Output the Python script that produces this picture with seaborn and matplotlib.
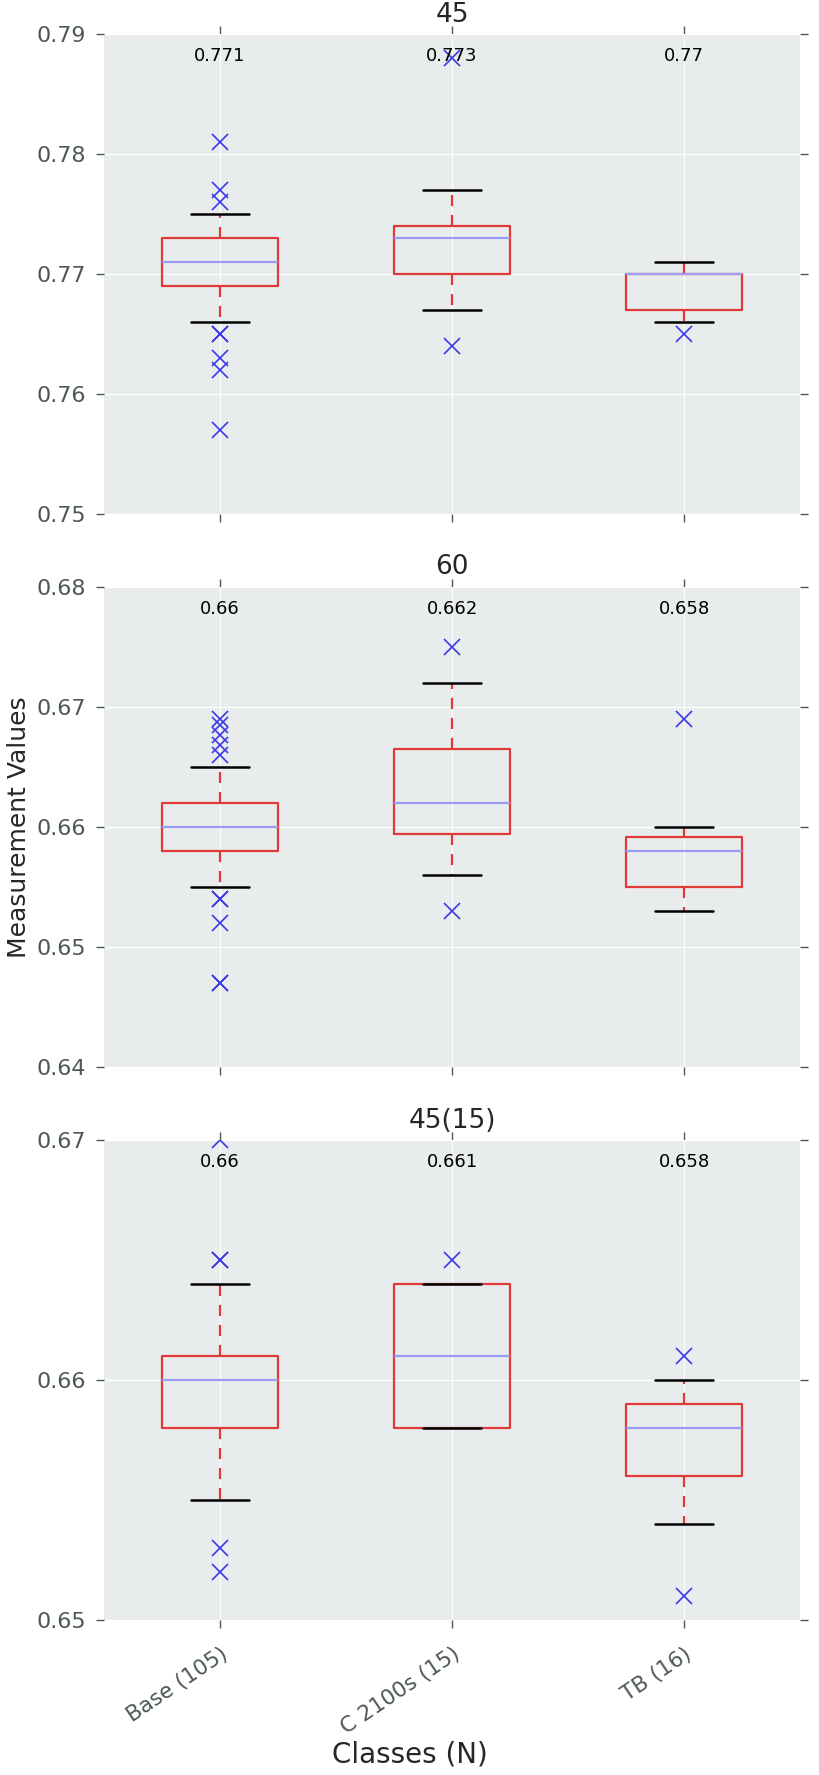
import numpy as np
import seaborn as sns
import matplotlib
matplotlib.use("Agg")
import matplotlib.pyplot as plt

# Data (box statistics per class)
panels = ['45', '60', '45(15)']
classes = ['Base (105)', 'C 2100s (15)', 'TB (16)']

# panel "45"
q1_45 = [0.769, 0.770, 0.767]
med_45 = [0.771, 0.773, 0.770]
q3_45 = [0.773, 0.774, 0.770]
lo_45 = [0.766, 0.767, 0.766]
hi_45 = [0.775, 0.777, 0.771]
fl_45 = [[0.781, 0.777, 0.776, 0.765, 0.765, 0.763, 0.762, 0.757],
         [0.788, 0.764],
         [0.765]]

# panel "60"
q1_60 = [0.658, 0.6594, 0.655]
med_60 = [0.660, 0.662, 0.658]
q3_60 = [0.662, 0.6665, 0.6592]
lo_60 = [0.655, 0.656, 0.653]
hi_60 = [0.665, 0.672, 0.660]
fl_60 = [[0.669, 0.6685, 0.6677, 0.6668, 0.666, 0.654, 0.654, 0.652, 0.647, 0.647],
         [0.675, 0.653],
         [0.669]]

# panel "45(15)"
q1_4515 = [0.658, 0.658, 0.656]
med_4515 = [0.660, 0.661, 0.658]
q3_4515 = [0.661, 0.664, 0.659]
lo_4515 = [0.655, 0.658, 0.654]
hi_4515 = [0.664, 0.664, 0.660]
fl_4515 = [[0.670, 0.665, 0.665, 0.653, 0.652],
           [0.665],
           [0.661, 0.651]]

ylims = [(0.75, 0.79), (0.64, 0.68), (0.65, 0.67)]
yticks = [[0.75, 0.76, 0.77, 0.78, 0.79],
          [0.64, 0.65, 0.66, 0.67, 0.68],
          [0.65, 0.66, 0.67]]

sns.set_style('darkgrid', {'axes.facecolor': '#e9ecec',
                           'grid.color': 'white'})
plt.rcParams['font.family'] = ['DejaVu Sans']

fig = plt.figure(figsize=(8.19, 17.75), dpi=100)
bottoms = [0.7104, 0.3989, 0.0873]

all_stats = [(q1_45, med_45, q3_45, lo_45, hi_45, fl_45),
             (q1_60, med_60, q3_60, lo_60, hi_60, fl_60),
             (q1_4515, med_4515, q3_4515, lo_4515, hi_4515, fl_4515)]

red = '#e03a3a'
tick_gray = '#4d5757'

for i, (q1, med, q3, lo, hi, fl) in enumerate(all_stats):
    ax = fig.add_axes([0.127, bottoms[i], 0.8498, 0.2704])
    stats = []
    for j in range(len(classes)):
        stats.append(dict(q1=q1[j], med=med[j], q3=q3[j],
                          whislo=lo[j], whishi=hi[j], fliers=fl[j],
                          label=classes[j]))
    ax.bxp(stats, positions=[1, 2, 3], widths=0.5, capwidths=0.25,
           manage_ticks=False,
           boxprops=dict(color=red, linewidth=1.6),
           medianprops=dict(color='#9c9cf2', linewidth=1.6),
           whiskerprops=dict(color=red, linewidth=1.6, linestyle=(0, (5, 4))),
           capprops=dict(color='black', linewidth=1.8),
           flierprops=dict(marker='x', markeredgecolor='#3a3ae6',
                           markersize=11, markeredgewidth=1.2,
                           linestyle='none'))

    ax.set_xlim(0.5, 3.5)
    ax.set_ylim(*ylims[i])
    ax.set_yticks(yticks[i])
    ax.set_yticklabels([f'{t:g}' for t in yticks[i]])
    ax.set_xticks([1, 2, 3])
    ax.set_title(panels[i], fontsize=19, pad=9)
    ax.tick_params(direction='out', length=6, width=1, color=tick_gray,
                   top=True, bottom=True, left=True, right=True,
                   labelsize=16, labelcolor=tick_gray, pad=7)
    for s in ax.spines.values():
        s.set_visible(False)

    # median value above each box
    for j, m in enumerate(med):
        ax.text(j + 1, 0.955, f'{round(m, 3):g}', transform=ax.get_xaxis_transform(),
                ha='center', va='center', fontsize=13, color='black')

    if i < 2:
        ax.set_xticklabels([])
    else:
        ax.set_xticklabels(classes, rotation=34, ha='right',
                           rotation_mode='anchor', fontsize=15.5)
        ax.tick_params(axis='x', pad=11)
        ax.set_xlabel('Classes (N)', fontsize=20, labelpad=2, x=0.44)
    if i == 1:
        ax.set_ylabel('Measurement Values', fontsize=18, labelpad=4)

fig.savefig('out.png', dpi=100)
